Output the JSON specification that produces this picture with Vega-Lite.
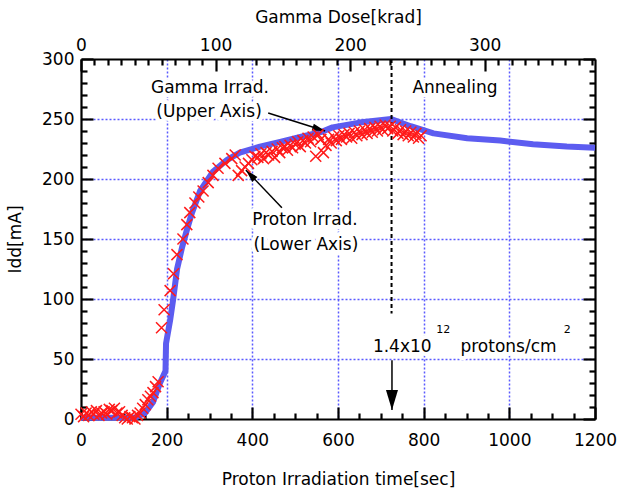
{
  "$schema": "https://vega.github.io/schema/vega-lite/v6.json",
  "width": 514,
  "height": 360,
  "autosize": {"type": "none"},
  "padding": {"left": 81, "top": 59, "right": 24, "bottom": 73},
  "background": "white",
  "config": {
    "view": {"stroke": null},
    "font": "DejaVu Sans",
    "axis": {
      "labelFont": "DejaVu Sans", "labelFontSize": 17, "labelColor": "black",
      "titleFont": "DejaVu Sans", "titleFontSize": 17, "titleFontWeight": "normal", "titleColor": "black",
      "domainColor": "black", "domainWidth": 2.2, "tickColor": "black", "tickWidth": 2.2,
      "labelFlush": false, "labelOverlap": false, "labelBound": false,
      "gridColor": "#5a5aff", "gridDash": [2, 2], "gridWidth": 1.5
    }
  },
  "datasets": {
    "proton": [
      {"sec":0,"mA":4},{"sec":6,"mA":2},{"sec":12,"mA":5},{"sec":18,"mA":3},{"sec":24,"mA":6},{"sec":30,"mA":4},{"sec":36,"mA":7},{"sec":42,"mA":3},{"sec":48,"mA":5},{"sec":54,"mA":6},{"sec":60,"mA":4},{"sec":66,"mA":8},{"sec":72,"mA":7},{"sec":78,"mA":9},{"sec":84,"mA":5},{"sec":90,"mA":6},{"sec":96,"mA":3},{"sec":102,"mA":1},{"sec":108,"mA":0},{"sec":114,"mA":2},{"sec":120,"mA":1},{"sec":126,"mA":0},{"sec":132,"mA":3},{"sec":138,"mA":5},{"sec":144,"mA":9},{"sec":150,"mA":12},{"sec":156,"mA":16},{"sec":162,"mA":19},{"sec":168,"mA":22},{"sec":174,"mA":27},{"sec":180,"mA":31},
      {"sec":188,"mA":76},{"sec":194,"mA":91},{"sec":208,"mA":107},{"sec":216,"mA":121},{"sec":224,"mA":137},{"sec":238,"mA":150},{"sec":247,"mA":162},{"sec":254,"mA":172},{"sec":266,"mA":180},{"sec":275,"mA":185},{"sec":285,"mA":190},{"sec":297,"mA":197},{"sec":308,"mA":203},{"sec":320,"mA":209},{"sec":336,"mA":213},{"sec":352,"mA":217},{"sec":360,"mA":220},
      {"sec":367,"mA":203},{"sec":375,"mA":207},{"sec":383,"mA":210},{"sec":391,"mA":213},{"sec":399,"mA":216},
      {"sec":406,"mA":219},{"sec":413,"mA":218},{"sec":420,"mA":221},{"sec":426,"mA":217},{"sec":432,"mA":222},{"sec":438,"mA":220},{"sec":446,"mA":223},{"sec":452,"mA":218},{"sec":458,"mA":225},{"sec":464,"mA":222},{"sec":470,"mA":226},{"sec":476,"mA":227},{"sec":482,"mA":224},{"sec":488,"mA":228},{"sec":494,"mA":226},{"sec":500,"mA":229},{"sec":506,"mA":231},{"sec":512,"mA":227},{"sec":518,"mA":232},{"sec":524,"mA":230},{"sec":530,"mA":234},{"sec":536,"mA":231},{"sec":542,"mA":235},{"sec":548,"mA":219},{"sec":554,"mA":237},{"sec":560,"mA":233},{"sec":566,"mA":222},{"sec":572,"mA":228},{"sec":578,"mA":233},{"sec":584,"mA":230},{"sec":590,"mA":235},{"sec":596,"mA":232},{"sec":602,"mA":236},{"sec":608,"mA":233},{"sec":614,"mA":237},{"sec":620,"mA":235},{"sec":626,"mA":238},{"sec":632,"mA":234},{"sec":638,"mA":239},{"sec":644,"mA":236},{"sec":650,"mA":240},{"sec":656,"mA":237},{"sec":662,"mA":241},{"sec":668,"mA":238},{"sec":674,"mA":242},{"sec":680,"mA":239},{"sec":686,"mA":243},{"sec":692,"mA":240},{"sec":698,"mA":244},{"sec":704,"mA":241},{"sec":710,"mA":245},{"sec":716,"mA":242},{"sec":722,"mA":244},{"sec":728,"mA":240},{"sec":734,"mA":243},{"sec":740,"mA":238},{"sec":746,"mA":241},{"sec":752,"mA":237},{"sec":758,"mA":240},{"sec":764,"mA":236},{"sec":770,"mA":239},{"sec":776,"mA":235},{"sec":782,"mA":238},{"sec":788,"mA":234},{"sec":794,"mA":236}
    ],
    "gamma": [
      {"krad":0,"mA":1},{"krad":20,"mA":1},{"krad":40,"mA":1},{"krad":47.6,"mA":5},{"krad":53.5,"mA":14},{"krad":58.7,"mA":30},{"krad":62.8,"mA":40},{"krad":63.2,"mA":63},{"krad":66.2,"mA":82},{"krad":68.4,"mA":99},{"krad":71.4,"mA":125},{"krad":75.1,"mA":143},{"krad":78.8,"mA":158},{"krad":82.5,"mA":172},{"krad":88.5,"mA":190},{"krad":98,"mA":206},{"krad":108.6,"mA":216},{"krad":118,"mA":222},{"krad":133,"mA":227},{"krad":148,"mA":231},{"krad":163,"mA":235},{"krad":178,"mA":239},{"krad":187,"mA":243},{"krad":207,"mA":247},{"krad":230.5,"mA":250},{"krad":245,"mA":244},{"krad":262,"mA":238},{"krad":287,"mA":234},{"krad":311.5,"mA":232},{"krad":336,"mA":229},{"krad":361,"mA":227},{"krad":382,"mA":226}
    ],
    "notes": [
      {"label":"Gamma Irrad.","sec":301,"mA":276,"kind":"main"},
      {"label":"(Upper Axis)","sec":299,"mA":256,"kind":"main"},
      {"label":"Proton Irrad.","sec":523,"mA":166,"kind":"main"},
      {"label":"(Lower Axis)","sec":525,"mA":145,"kind":"main"},
      {"label":"Annealing","sec":873,"mA":276,"kind":"main"},
      {"label":"1.4x10","sec":750,"mA":60,"kind":"main"},
      {"label":"protons/cm","sec":998,"mA":60,"kind":"main"},
      {"label":"12","sec":846,"mA":74,"kind":"sup"},
      {"label":"2","sec":1135,"mA":74,"kind":"sup"}
    ],
    "arrows": [
      {"id":"a1","sec":437,"mA":255,"sec2":570,"mA2":240},
      {"id":"a2","sec":469,"mA":176,"sec2":385,"mA2":207.5},
      {"id":"a3","sec":726,"mA":49,"sec2":726,"mA2":7.5}
    ],
    "marker": [{"sec":725,"mA":300,"mA2":88}]
  },
  "layer": [
    {
      "data": {"name": "gamma"},
      "mark": {"type": "line", "color": "#5c5cf0", "strokeWidth": 6, "strokeJoin": "round", "strokeCap": "butt"},
      "encoding": {
        "x": {"field": "krad", "type": "quantitative",
          "scale": {"domain": [0, 382], "nice": false, "zero": false},
          "axis": {"orient": "top", "format": "d",
            "values": [0,10,20,30,40,50,60,70,80,90,100,110,120,130,140,150,160,170,180,190,200,210,220,230,240,250,260,270,280,290,300,310,320,330,340,350,360,370,380],
            "labelExpr": "datum.value % 100 === 0 ? datum.label : ''",
            "tickSize": {"condition": {"test": "datum.value % 100 === 0", "value": -12}, "value": -6},
            "labelPadding": 17, "grid": false,
            "title": "Gamma Dose[krad]", "titleY": -42, "titleBaseline": "middle"}},
        "y": {"field": "mA", "type": "quantitative",
          "scale": {"domain": [0, 300], "nice": false, "zero": false},
          "axis": {"orient": "right",
            "values": [0,10,20,30,40,50,60,70,80,90,100,110,120,130,140,150,160,170,180,190,200,210,220,230,240,250,260,270,280,290,300],
            "tickSize": {"condition": {"test": "datum.value % 50 === 0", "value": -12}, "value": -6},
            "labels": false, "grid": false, "title": null}}
      }
    },
    {
      "encoding": {
        "x": {"field": "sec", "type": "quantitative",
          "scale": {"domain": [0, 1200], "nice": false, "zero": false},
          "axis": {"orient": "bottom", "format": "d",
            "values": [0,50,100,150,200,250,300,350,400,450,500,550,600,650,700,750,800,850,900,950,1000,1050,1100,1150,1200],
            "labelExpr": "datum.value % 200 === 0 ? datum.label : ''",
            "tickSize": {"condition": {"test": "datum.value % 200 === 0", "value": -12}, "value": -6},
            "labelPadding": 25, "grid": true,
            "gridOpacity": {"condition": {"test": "datum.value % 200 === 0 && datum.value > 0 && datum.value < 1200", "value": 1}, "value": 0},
            "title": "Proton Irradiation time[sec]", "titleY": 60, "titleBaseline": "middle"}},
        "y": {"field": "mA", "type": "quantitative",
          "scale": {"domain": [0, 300], "nice": false, "zero": false},
          "axis": {"orient": "left", "format": "d",
            "values": [0,10,20,30,40,50,60,70,80,90,100,110,120,130,140,150,160,170,180,190,200,210,220,230,240,250,260,270,280,290,300],
            "labelExpr": "datum.value % 50 === 0 ? datum.label : ''",
            "tickSize": {"condition": {"test": "datum.value % 50 === 0", "value": -12}, "value": -6},
            "labelPadding": 19, "grid": true,
            "gridOpacity": {"condition": {"test": "datum.value % 50 === 0 && datum.value > 0 && datum.value < 300", "value": 1}, "value": 0},
            "title": "Idd[mA]", "titleX": -66, "titleBaseline": "middle"}}
      },
      "layer": [
        {
          "data": {"name": "notes"},
          "transform": [{"filter": "datum.kind === 'main'"}],
          "mark": {"type": "text", "fontSize": 17, "font": "DejaVu Sans", "align": "center", "baseline": "middle", "stroke": "white", "strokeWidth": 8, "strokeJoin": "round", "fill": "white"},
          "encoding": {"text": {"field": "label"}}
        },
        {
          "data": {"name": "notes"},
          "transform": [{"filter": "datum.kind === 'main'"}],
          "mark": {"type": "text", "fontSize": 17, "font": "DejaVu Sans", "align": "center", "baseline": "middle", "color": "black"},
          "encoding": {"text": {"field": "label"}}
        },
        {
          "data": {"name": "notes"},
          "transform": [{"filter": "datum.kind === 'sup'"}],
          "mark": {"type": "text", "fontSize": 11, "font": "DejaVu Sans", "align": "center", "baseline": "middle", "color": "black"},
          "encoding": {"text": {"field": "label"}}
        },
        {
          "data": {"name": "marker"},
          "mark": {"type": "rule", "color": "black", "strokeWidth": 2, "strokeDash": [4, 3]},
          "encoding": {"y2": {"field": "mA2"}}
        },
        {
          "data": {"name": "arrows"},
          "mark": {"type": "rule", "color": "black", "strokeWidth": 1.5},
          "encoding": {"x2": {"field": "sec2"}, "y2": {"field": "mA2"}}
        },
        {
          "data": {"name": "arrows"},
          "transform": [{"filter": "datum.id === 'a1'"}],
          "mark": {"type": "point", "shape": "M0,0L-2,-0.55L-2,0.55Z", "filled": true, "color": "black", "opacity": 1, "size": 169, "angle": 17.5},
          "encoding": {"x": {"field": "sec2", "type": "quantitative"}, "y": {"field": "mA2", "type": "quantitative"}}
        },
        {
          "data": {"name": "arrows"},
          "transform": [{"filter": "datum.id === 'a2'"}],
          "mark": {"type": "point", "shape": "M0,0L-2,-0.55L-2,0.55Z", "filled": true, "color": "black", "opacity": 1, "size": 169, "angle": 226.6},
          "encoding": {"x": {"field": "sec2", "type": "quantitative"}, "y": {"field": "mA2", "type": "quantitative"}}
        },
        {
          "data": {"name": "arrows"},
          "transform": [{"filter": "datum.id === 'a3'"}],
          "mark": {"type": "point", "shape": "M0,0L-2,-0.6L-2,0.6Z", "filled": true, "color": "black", "opacity": 1, "size": 400, "angle": 90},
          "encoding": {"x": {"field": "sec2", "type": "quantitative"}, "y": {"field": "mA2", "type": "quantitative"}}
        },
        {
          "data": {"name": "proton"},
          "mark": {"type": "point", "shape": "M-1,-1L1,1M-1,1L1,-1", "filled": false, "color": "#ff1a1a", "strokeWidth": 1.5, "size": 121, "opacity": 1}
        }
      ]
    }
  ],
  "resolve": {"scale": {"x": "independent", "y": "independent"}}
}
